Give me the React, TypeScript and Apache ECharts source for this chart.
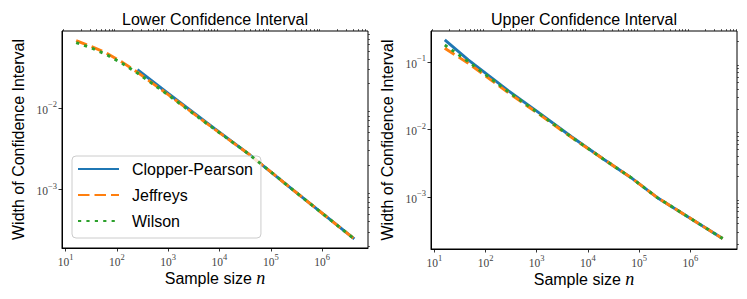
import React, { useEffect, useRef } from "react";
import * as echarts from "echarts";

// ---------- data (raw values) ----------
// Lower confidence interval panel
const lowerCpN = [251, 1000, 7943, 36300, 275400, 4270000];
const lowerCpW = [0.0296, 0.01507, 0.00562, 0.00275, 0.000977, 0.000245];
const lowerJeffN = [16, 32, 63, 126, 251, 1000, 7943, 36300, 275400, 4270000];
const lowerJeffW = [0.0673, 0.0569, 0.0473, 0.0367, 0.0275, 0.01462, 0.0055, 0.00275, 0.000977, 0.000245];
const lowerWilsonN = [16, 32, 63, 126, 251, 1000, 7943, 36300, 275400, 4270000];
const lowerWilsonW = [0.0638, 0.0547, 0.0452, 0.0355, 0.0269, 0.01445, 0.0055, 0.00275, 0.000977, 0.000245];

// Upper confidence interval panel
const upperN = [16, 46, 282, 1000, 4786, 19950, 67600, 224000, 4270000];
const upperCpW = [0.2118, 0.1072, 0.03715, 0.01862, 0.00776, 0.00363, 0.00195, 0.000977, 0.00024];
const upperJeffW = [0.1596, 0.0957, 0.03467, 0.01778, 0.00759, 0.00363, 0.00195, 0.000977, 0.00024];
const upperWilsonW = [0.1786, 0.1012, 0.03589, 0.0182, 0.00767, 0.00363, 0.00195, 0.000977, 0.00024];

// tick exponents
const xTickExps = [1, 2, 3, 4, 5, 6];
const yTickExpsLower = [-3, -2];
const yTickExpsUpper = [-3, -2, -1];

const seriesNames = ["Clopper-Pearson", "Jeffreys", "Wilson"];
const seriesColors = ["#1f77b4", "#ff7f0e", "#2ca02c"];

// ---------- helpers ----------
const toPts = (ns: number[], ws: number[]) => ns.map((n, i) => [Math.log10(n), Math.log10(ws[i])]);

const minorValues = (lo: number, hi: number) => {
  const out: number[] = [];
  for (let d = -6; d <= 8; d++) {
    for (let k = 2; k <= 9; k++) {
      const v = d + Math.log10(k);
      if (v > lo && v < hi) out.push(v);
    }
  }
  return out;
};

const SERIF = "'Liberation Serif', 'DejaVu Serif', serif";
const SANS = "'Liberation Sans', Arial, sans-serif";

const tickFmt = (v: number) => {
  const e = Math.round(v);
  return `{b|10}{s|${e < 0 ? "\u2212" : ""}${Math.abs(e)}}`;
};
const tickRich = {
  b: { fontFamily: SERIF, fontSize: 11.5, color: "#444", lineHeight: 16, verticalAlign: "bottom" },
  s: { fontFamily: SERIF, fontSize: 8.5, color: "#444", lineHeight: 8, verticalAlign: "top" },
};

const panels = [
  { left: 62, top: 31, width: 306, height: 217, xMin: 0.928, xMax: 6.897, yMin: -3.722, yMax: -1.053, yTicks: yTickExpsLower },
  { left: 431, top: 31, width: 306, height: 218, xMin: 0.935, xMax: 6.912, yMin: -3.775, yMax: -0.541, yTicks: yTickExpsUpper },
];

export default function App() {
  const ref = useRef<HTMLDivElement>(null);
  useEffect(() => {
    if (!ref.current) return;
    const chart = echarts.init(ref.current, undefined, { renderer: "svg" });

    const grids: any[] = [];
    const xAxes: any[] = [];
    const yAxes: any[] = [];
    panels.forEach((p, gi) => {
      grids.push({ left: p.left, top: p.top, width: p.width, height: p.height, show: true, borderColor: "#000", borderWidth: 1, backgroundColor: "transparent" });
      // main x axis
      xAxes.push({
        type: "value", gridIndex: gi, min: p.xMin, max: p.xMax,
        name: "{a|Sample size }{n|n}", nameLocation: "middle", nameGap: 21, nameMoveOverlap: false,
        nameTextStyle: {
          rich: {
            a: { fontFamily: SANS, fontSize: 16, color: "#000" },
            n: { fontFamily: SERIF, fontStyle: "italic", fontSize: 18, color: "#000" },
          },
        },
        axisLine: { show: true, lineStyle: { color: "#000", width: 1 } },
        axisTick: { show: true, inside: false, length: 3.5, customValues: xTickExps, lineStyle: { color: "#000", width: 0.8 } },
        axisLabel: { show: true, margin: 4, customValues: xTickExps, formatter: tickFmt, rich: tickRich },
        splitLine: { show: false },
      });
      // minor x ticks
      xAxes.push({
        type: "value", gridIndex: gi, min: p.xMin, max: p.xMax,
        axisLine: { show: false },
        axisTick: { show: true, inside: false, length: 2, customValues: minorValues(p.xMin, p.xMax), lineStyle: { color: "#000", width: 0.6 } },
        axisLabel: { show: false },
        splitLine: { show: false },
      });
      // main y axis
      yAxes.push({
        type: "value", gridIndex: gi, min: p.yMin, max: p.yMax,
        name: "Width of Confidence Interval", nameLocation: "middle", nameRotate: 90, nameGap: 36,
        nameTextStyle: { fontFamily: SANS, fontSize: 16, color: "#000" },
        axisLine: { show: true, lineStyle: { color: "#000", width: 1 } },
        axisTick: { show: true, inside: false, length: 3.5, customValues: p.yTicks, lineStyle: { color: "#000", width: 0.8 } },
        axisLabel: { show: true, margin: 5, customValues: p.yTicks, formatter: tickFmt, rich: tickRich },
        splitLine: { show: false },
      });
      // minor y ticks
      yAxes.push({
        type: "value", gridIndex: gi, min: p.yMin, max: p.yMax,
        axisLine: { show: false },
        axisTick: { show: true, inside: false, length: 2, customValues: minorValues(p.yMin, p.yMax), lineStyle: { color: "#000", width: 0.6 } },
        axisLabel: { show: false },
        splitLine: { show: false },
      });
    });

    const lineTypes: any[] = ["solid", [11.5, 5], [3.2, 5.2]];
    const mk = (name: string, idx: number, gi: number, data: number[][]) => ({
      type: "line",
      name,
      xAxisIndex: gi * 2,
      yAxisIndex: gi * 2,
      data,
      symbol: "none",
      showSymbol: false,
      smooth: false,
      z: 2 + idx,
      lineStyle: { color: seriesColors[idx], width: 2.9, type: lineTypes[idx], cap: "butt" },
      itemStyle: { color: seriesColors[idx] },
      emphasis: { disabled: true },
    });

    const series = [
      mk(seriesNames[0], 0, 0, toPts(lowerCpN, lowerCpW)),
      mk(seriesNames[1], 1, 0, toPts(lowerJeffN, lowerJeffW)),
      mk(seriesNames[2], 2, 0, toPts(lowerWilsonN, lowerWilsonW)),
      mk(seriesNames[0], 0, 1, toPts(upperN, upperCpW)),
      mk(seriesNames[1], 1, 1, toPts(upperN, upperJeffW)),
      mk(seriesNames[2], 2, 1, toPts(upperN, upperWilsonW)),
    ];

    chart.setOption({
      animation: false,
      backgroundColor: "#fff",
      grid: grids,
      xAxis: xAxes,
      yAxis: yAxes,
      series,
      legend: {
        data: seriesNames,
        orient: "vertical",
        left: 72,
        top: 156,
        itemWidth: 41,
        itemHeight: 14,
        itemGap: 10,
        padding: [5, 8, 9, 5],
        borderColor: "#cccccc",
        borderWidth: 1,
        borderRadius: 4,
        backgroundColor: "rgba(255,255,255,0.8)",
        itemStyle: { color: "rgba(0,0,0,0)", borderColor: "rgba(0,0,0,0)", borderWidth: 0, opacity: 0 },
        textStyle: { fontFamily: SANS, fontSize: 16, color: "#000", padding: [0, 0, 0, 8] },
        selectedMode: false,
      },
      graphic: [
        { type: "text", x: 215, y: 19, style: { text: "Lower Confidence Interval", font: `16px ${SANS}`, fill: "#000", textAlign: "center", textVerticalAlign: "middle" } },
        { type: "text", x: 584, y: 19, style: { text: "Upper Confidence Interval", font: `16px ${SANS}`, fill: "#000", textAlign: "center", textVerticalAlign: "middle" } },
      ],
    });

    return () => chart.dispose();
  }, []);

  return <div ref={ref} style={{ position: "fixed", left: 0, top: 0, width: 747, height: 299 }} />;
}
